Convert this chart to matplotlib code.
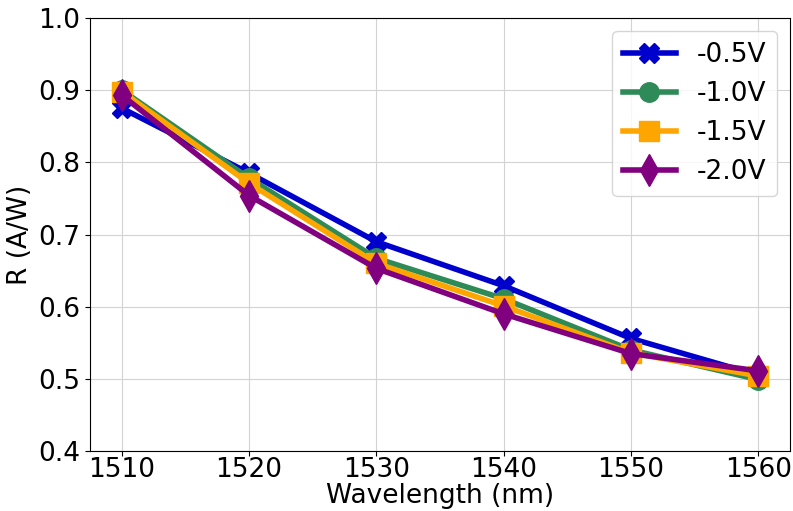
import matplotlib
matplotlib.use('Agg')
import matplotlib.pyplot as plt

wavelength = [1510, 1520, 1530, 1540, 1550, 1560]
r_05 = [0.875, 0.785, 0.690, 0.629, 0.556, 0.505]
r_10 = [0.900, 0.778, 0.667, 0.611, 0.540, 0.499]
r_15 = [0.898, 0.771, 0.660, 0.601, 0.536, 0.504]
r_20 = [0.893, 0.754, 0.653, 0.590, 0.535, 0.511]

fig = plt.figure(figsize=(7.93, 5.11), dpi=100)
ax = fig.add_axes([90 / 793, 60 / 511, 700 / 793, 433 / 511])

ax.plot(wavelength, r_05, color='mediumblue', marker='X', markersize=14, linewidth=4, label='-0.5V')
ax.plot(wavelength, r_10, color='seagreen', marker='o', markersize=14, linewidth=4, label='-1.0V')
ax.plot(wavelength, r_15, color='orange', marker='s', markersize=14, linewidth=4, label='-1.5V')
ax.plot(wavelength, r_20, color='purple', marker='d', markersize=16, linewidth=4, label='-2.0V')

ax.set_ylim(0.4, 1.0)
ax.set_xticks(wavelength)
ax.tick_params(labelsize=19)
ax.tick_params(axis='x', pad=1)
ax.set_xlabel('Wavelength (nm)', fontsize=19, labelpad=0)
ax.set_ylabel('R (A/W)', fontsize=19)
ax.grid(True, color='lightgray')
ax.legend(fontsize=19, loc='upper right')

fig.savefig('out.png', dpi=100)
